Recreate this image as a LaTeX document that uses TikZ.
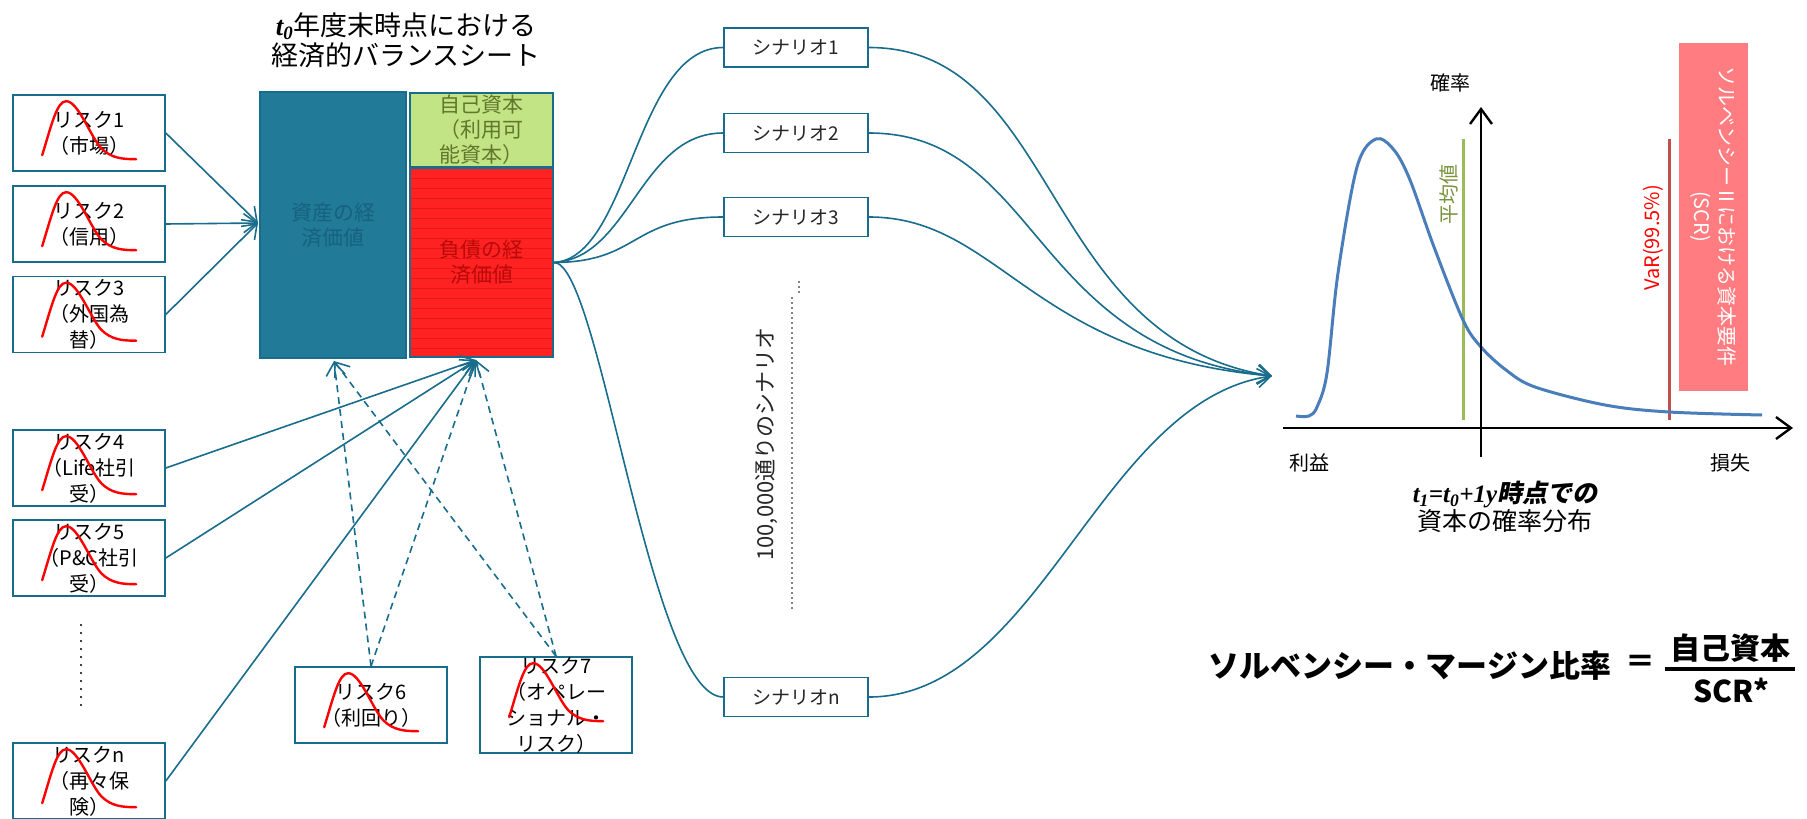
\documentclass[tikz,border=0pt]{standalone}
\usepackage{fontspec}
\setmainfont{Noto Sans CJK JP}
\newfontfamily\latinserif{Liberation Serif}
\newfontfamily\cjkslant[FakeSlant=0.2]{Noto Sans CJK JP}
\usepackage{tikz}
\usetikzlibrary{arrows.meta}

\definecolor{lineteal}{RGB}{24,108,140}
\definecolor{assetfill}{RGB}{33,122,152}
\definecolor{assettext}{RGB}{22,98,128}
\definecolor{equityfill}{RGB}{195,228,132}
\definecolor{equitytext}{RGB}{95,120,45}
\definecolor{liabfill}{RGB}{255,34,34}
\definecolor{liabtext}{RGB}{185,10,10}
\definecolor{stripered}{RGB}{232,22,22}
\definecolor{densblue}{RGB}{74,126,187}
\definecolor{meangreen}{RGB}{155,187,89}
\definecolor{meantext}{RGB}{119,147,60}
\definecolor{varred}{RGB}{192,80,77}
\definecolor{scrfill}{RGB}{255,124,128}

\tikzset{
  riskbox/.style={draw=lineteal, line width=1.6pt, fill=white, minimum width=152pt, minimum height=76pt,
    inner sep=0pt, align=center, font=\fontsize{20}{26}\selectfont},
  sheet/.style={draw=lineteal, line width=2pt, inner sep=0pt, align=center, font=\fontsize{21}{25}\selectfont},
  scenbox/.style={draw=lineteal, line width=1.6pt, fill=white, minimum width=144pt, minimum height=39pt,
    text=black!85, font=\fontsize{19}{23}\selectfont},
  conn/.style={draw=lineteal, line width=1.6pt},
  arr/.style={conn, -{Straight Barb[length=13pt,width=19pt]}},
  dasharr/.style={arr, dash pattern=on 7pt off 5pt},
  riskline/.style={draw=red, line width=2.4pt, line cap=round},
  axis/.style={line width=2.4pt, -{Straight Barb[length=15pt,width=22pt]}},
  label/.style={font=\fontsize{20}{24}\selectfont},
}

% small density sketch inside a risk box
\newcommand\riskcurve[1]{%
  \draw[riskline, shift={(#1.north west)}] (30,61) .. controls (40,28) and (45,7) .. (54,7)
    .. controls (66,7) and (78,42) .. (89,54) .. controls (99,64) and (110,65) .. (124,65);}

\begin{document}
\begin{tikzpicture}[x=1pt,y=-1pt]
\useasboundingbox (0,0) rectangle (1807,819);

% Risks
\node[riskbox] (r1) at (89,133) {リスク1\\（市場）};
\node[riskbox] (r2) at (89,224) {リスク2\\（信用）};
\node[riskbox] (r3) at (89,314.5) {リスク3\\（外国為\\替）};
\node[riskbox] (r4) at (89,468) {リスク4\\（Life社引\\受）};
\node[riskbox] (r5) at (89,558) {リスク5\\（P\&C社引\\受）};
\node[riskbox] (rn) at (89,781) {リスクn\\（再々保\\険）};
\node[riskbox] (r6) at (371,705) {リスク6\\（利回り）};
\node[riskbox] (r7) at (556,705) {リスク7\\（オペレー\\ショナル・\\リスク）};
\foreach \r in {r1,r2,r3,r4,r5,rn,r6,r7} {\riskcurve{\r}}
\draw[line width=2.4pt, line cap=round, dash pattern=on 0pt off 8pt] (81,625) -- (81,705);

% Balance sheet
\node[font=\fontsize{27}{30}\selectfont, align=center] (title) at (406,40)
  {{\latinserif\bfseries\itshape t\textsubscript{0}}年度末時点における\\経済的バランスシート};
\node[sheet, fill=assetfill, text=assettext, minimum width=146pt, minimum height=266pt] (assets) at (333,225) {資産の経\\済価値};
\node[sheet, fill=equityfill, text=equitytext, minimum width=143pt, minimum height=74pt] (equity) at (481.5,130) {自己資本\\（利用可\\能資本）};
\node[sheet, fill=liabfill, text=liabtext, minimum width=143pt, minimum height=189pt,
  path picture={\foreach \k in {1,...,18}
    \draw[stripered, line width=0.5pt] ([yshift=-\k*10pt]path picture bounding box.north west) -- ++(143,0);}]
  (liab) at (481.5,262.5) {負債の経\\済価値};

\coordinate (sheetin) at (258,223);
\coordinate (assetin) at (334,361);
\coordinate (liabin) at (476,360);

% Risks into the sheet
\foreach \r in {r1,r2,r3} \draw[arr] (\r.east) -- (sheetin);
\foreach \r in {r4,r5,rn} \draw[arr] (\r.east) -- (liabin);
\foreach \r in {r6,r7} {
  \draw[dasharr] (\r.north) -- (assetin);
  \draw[dasharr] (\r.north) -- (liabin);
}

% Scenarios
\node[scenbox] (s1) at (796,47.5) {シナリオ1};
\node[scenbox] (s2) at (796,133) {シナリオ2};
\node[scenbox] (s3) at (796,217) {シナリオ3};
\node[scenbox] (sn) at (796,697) {シナリオn};
\node[rotate=90, text=black!85, font=\fontsize{22}{26}\selectfont] (many) at (767,444) {100,000通りのシナリオ};
\draw[line width=1.8pt, line cap=round, dash pattern=on 0pt off 5pt] (799,282) -- (799,292);
\draw[line width=1.8pt, line cap=round, dash pattern=on 0pt off 5pt] (792,298) -- (792,612);

\draw[conn] (liab.east) .. controls (630,258) and (635,47.5) .. (s1.west);
\draw[conn] (liab.east) .. controls (630,258) and (640,133) .. (s2.west);
\draw[conn] (liab.east) .. controls (640,262) and (630,217) .. (s3.west);
\draw[conn] (liab.east) .. controls (600,262) and (650,697) .. (sn.west);

\coordinate (distin) at (1272,376);
\draw[arr] (s1.east) .. controls (1060,47.5) and (1040,340) .. (distin);
\draw[arr] (s2.east) .. controls (1040,133) and (1030,350) .. (distin);
\draw[arr] (s3.east) .. controls (1000,217) and (1030,355) .. (distin);
\draw[arr] (sn.east) .. controls (1040,697) and (1100,400) .. (distin);

% Distribution of capital
\node[fill=scrfill, rotate=-90, minimum width=348pt, minimum height=69pt, inner sep=0pt, text=white,
  align=center, font=\fontsize{20}{25}\selectfont] (scr) at (1713,216.5) {ソルベンシーⅡにおける資本要件\\(SCR)};
\draw[meangreen, line width=3pt] (1463,139) -- (1463,420);
\draw[varred, line width=3pt] (1669,139) -- (1669,420);
\node[label, rotate=90, text=meantext] (mean) at (1449,194) {平均値};
\node[label, rotate=90, text=red] (var) at (1653,238) {VaR(99.5\%)};
\draw[densblue, line width=3pt] plot[smooth, tension=0.55] coordinates {(1296,416) (1309,416) (1317,407)
  (1327,373) (1338,273) (1357,167) (1376,139) (1394,150) (1410,180) (1434,247) (1463,320) (1481,347)
  (1506,370) (1535,387) (1605,405) (1669,412) (1762,415)};
\draw[axis] (1283,428) -- (1793,428);
\draw[axis] (1481,457) -- (1481,107);
\node[label] (prob) at (1450,83) {確率};
\node[label] (gain) at (1309,463) {利益};
\node[label] (loss) at (1730,463) {損失};
\node[align=center, font=\fontsize{25}{28}\selectfont] (dist) at (1505,507)
  {{\latinserif\bfseries\itshape t\textsubscript{1}=t\textsubscript{0}+1y}{\cjkslant\bfseries 時点での}\\資本の確率分布};

% Solvency margin ratio
\node[font=\fontsize{31}{36}\selectfont\bfseries] (ratio) at (1410,666) {ソルベンシー・マージン比率};
\node[font=\fontsize{30}{36}\selectfont\bfseries] (eq) at (1640,664) {＝};
\node[font=\fontsize{30}{36}\selectfont\bfseries] (num) at (1730,648) {自己資本};
\node[font=\fontsize{30}{36}\selectfont\bfseries] (den) at (1731,690) {SCR*};
\coordinate (barl) at (1665,669);
\coordinate (barr) at (1795,669);
\draw[line width=3.5pt] (barl) -- (barr);

\end{tikzpicture}
\end{document}
